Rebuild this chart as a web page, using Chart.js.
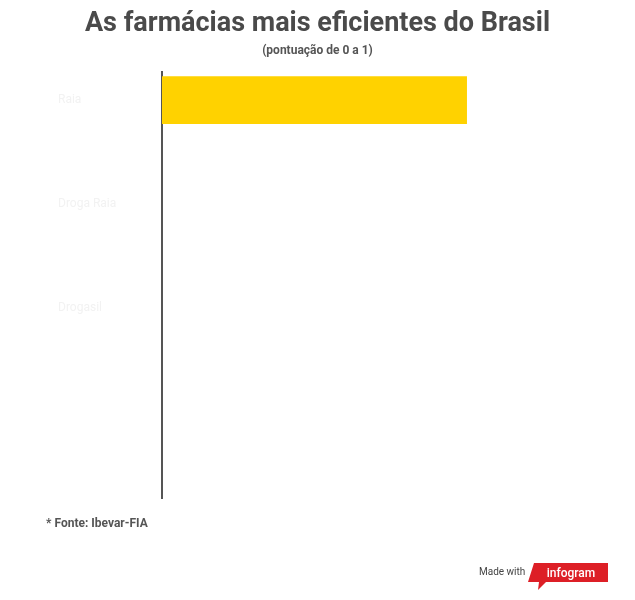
<!DOCTYPE html>
<html>
<head>
<meta charset="utf-8">
<script src="https://cdn.jsdelivr.net/npm/chart.js@4"></script>
<style>
  body { margin: 0; background: #fff; font-family: Roboto, "Noto Sans", sans-serif; }
  #wrap { position: relative; width: 635px; height: 600px; }
  #chart { position: absolute; left: 0; top: 0; }
  .title { position: absolute; top: 6px; left: 0; width: 635px; text-align: center;
           font-size: 27px; font-weight: 700; color: #4a4a4a; }
  .sub { position: absolute; top: 43px; left: 0; width: 635px; text-align: center;
         font-size: 12px; font-weight: 700; color: #555; }
  .fonte { position: absolute; top: 516px; left: 46px; font-size: 12px; font-weight: 700; color: #555; }
  .made { position: absolute; top: 566px; left: 479px; font-size: 10px; color: #444; }
  .logo { position: absolute; top: 560px; left: 526px; }
</style>
</head>
<body>
<div id="wrap">
  <canvas id="chart" width="635" height="600"></canvas>
  <div class="title">As farmácias mais eficientes do Brasil</div>
  <div class="sub">(pontuação de 0 a 1)</div>
  <div class="fonte">* Fonte: Ibevar-FIA</div>
  <div class="made">Made with</div>
  <svg class="logo" width="84" height="32" viewBox="0 0 84 32">
    <polygon points="8,3 82,3 82,22 20,22 12,30 13,22 2,22" fill="#dd1f26"/>
    <text x="45" y="17" text-anchor="middle" font-family="Roboto, sans-serif" font-size="12" font-weight="500" fill="#fff">infogram</text>
  </svg>
</div>
<script>
// farmácias (só a primeira barra já aparece, as outras ainda em zero)
const farmacias = ["Raia", "Droga Raia", "Drogasil"];
const pontuacao = [0.68, 0, 0];

const pontos = farmacias.map((f, i) => ({ x: pontuacao[i], y: i }));

const ctx = document.getElementById("chart").getContext("2d");
new Chart(ctx, {
  type: "bar",
  data: {
    datasets: [{
      data: pontos,
      backgroundColor: (c) => (c.raw && c.raw.x > 0 ? "#ffd200" : "rgba(0,0,0,0)"),
      borderWidth: 0,
      barThickness: 47
    }]
  },
  options: {
    indexAxis: "y",
    responsive: false,
    animation: false,
    layout: { padding: { top: 72, bottom: 102, left: 58, right: 25 } },
    plugins: { legend: { display: false }, tooltip: { enabled: false } },
    scales: {
      x: { type: "linear", min: 0, max: 1, display: false },
      y: {
        type: "linear",
        reverse: true,
        offset: false,
        min: -0.27,
        max: 3.83,
        afterBuildTicks: (scale) => { scale.ticks = farmacias.map((f, i) => ({ value: i })); },
        afterFit: (scale) => { scale.width = 104; },
        grid: { display: false, offset: false },
        border: { display: true, color: "#555", width: 2 },
        ticks: {
          autoSkip: false,
          crossAlign: "far",
          color: "#f2f2f2",
          font: { family: "Roboto", size: 12 },
          callback: (v) => farmacias[v] ?? ""
        }
      }
    }
  }
});
</script>
</body>
</html>
